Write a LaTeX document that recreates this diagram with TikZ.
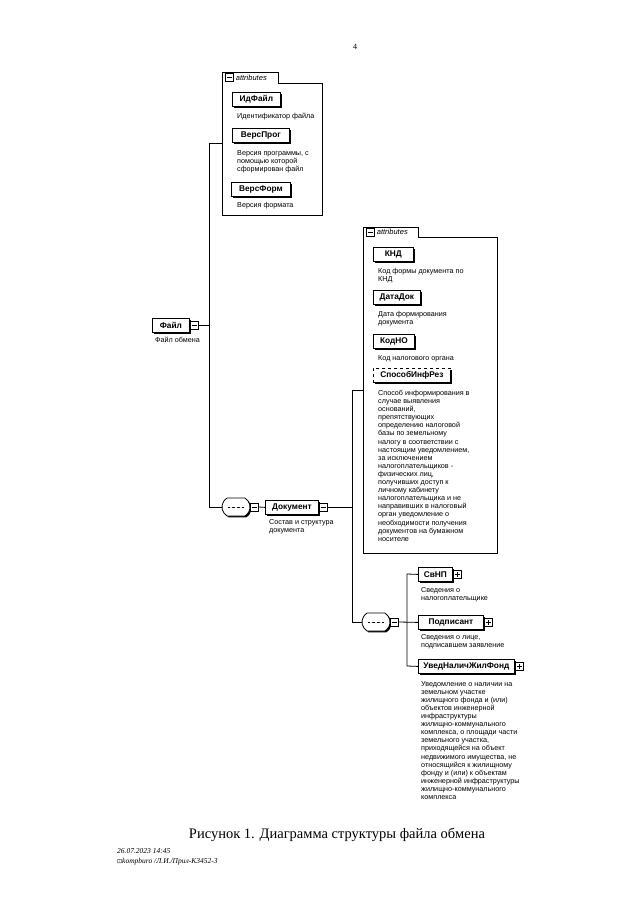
\documentclass[tikz,border=0pt]{standalone}
\usepackage{fontspec}
\setmainfont{Liberation Serif}
\setsansfont{Liberation Sans}
\newfontfamily\symfont{DejaVu Sans}
\usetikzlibrary{positioning,shapes.misc,shadows,calc}

\tikzset{
  line/.style={line width=0.8pt},
  shade/.style={general shadow={fill=black, shadow xshift=1.4pt, shadow yshift=-1.4pt}},
  elem/.style={draw, line width=0.8pt, fill=white, anchor=north west, shade,
    font=\sffamily\bfseries\fontsize{8.3}{9}\selectfont,
    minimum height=14pt, inner sep=0pt},
  optelem/.style={elem, dashed},
  descr/.style={anchor=north west, inner sep=0pt, align=left,
    font=\sffamily\fontsize{7.2}{8.1}\selectfont},
  sign/.style={draw, line width=0.7pt, fill=white, minimum size=8pt,
    inner sep=0pt, anchor=west},
  minus/.style={sign, path picture={
    \draw ([xshift=1.5pt]path picture bounding box.west) -- ([xshift=-1.5pt]path picture bounding box.east);}},
  plus/.style={sign, path picture={
    \draw ([xshift=1.5pt]path picture bounding box.west) -- ([xshift=-1.5pt]path picture bounding box.east);
    \draw ([yshift=-1.5pt]path picture bounding box.north) -- ([yshift=1.5pt]path picture bounding box.south);}},
  seq/.style={draw, line width=0.8pt, fill=white, shade, rounded rectangle,
    rounded rectangle arc length=120, minimum width=28pt, minimum height=18pt, inner sep=0pt,
    path picture={
      \draw[line width=0.6pt] ([xshift=-8pt]path picture bounding box.center) -- ([xshift=8pt]path picture bounding box.center);
      \foreach \d in {-5,0,5} \fill ([xshift=\d pt]path picture bounding box.center) circle (1.3pt);}},
  grp/.style={draw, line width=0.8pt, fill=white,
    general shadow={fill=black, shadow xshift=0.8pt, shadow yshift=-0.8pt}},
  box/.style={inner sep=0pt, outer sep=0pt},
  tabtxt/.style={font=\sffamily\itshape\fontsize{7.5}{9}\selectfont, inner sep=0pt},
}

\begin{document}
\begin{tikzpicture}[x=1pt,y=-1pt]
  \useasboundingbox (0,0) rectangle (640,905);

  \node[font=\fontsize{8}{9}\selectfont] (pnum) at (355,47) {4};

  % attributes of the file
  \node[box, anchor=north west, minimum width=100pt, minimum height=132pt] (grpA) at (222,83) {};
  \node[box, anchor=south west, minimum width=56pt, minimum height=11pt] (tabA) at (grpA.north west) {};
  \draw[grp] (tabA.north west) -- (tabA.north east) -- (tabA.south east) -- (grpA.north east)
    -- (grpA.south east) -- (grpA.south west) -- cycle;
  \node[minus] (tabAm) at ([xshift=3pt]tabA.west) {};
  \node[tabtxt, right=2pt of tabAm] (tabAt) {attributes};

  \node[elem, minimum width=48pt] (idfile) at (232,92) {ИдФайл};
  \node[descr] (idfiled) at (237,113) {Идентификатор файла};
  \node[elem, minimum width=57pt] (versprog) at (232,128) {ВерсПрог};
  \node[descr] (versprogd) at (237,150) {Версия программы, с\\помощью которой\\сформирован файл};
  \node[elem, minimum width=59pt] (versform) at (231,182) {ВерсФорм};
  \node[descr] (versformd) at (237,202) {Версия формата};

  % root
  \node[elem, minimum width=37pt] (file) at (152,318) {Файл};
  \node[minus] (fileM) at (file.east) {};
  \node[descr] (filed) at (155,337) {Файл обмена};

  \node[seq] (seqA) at (236,507) {};
  \node[minus] (seqAm) at (seqA.east) {};
  \node[elem, minimum width=53pt] (doc) at (265,500) {Документ};
  \node[minus] (docM) at (doc.east) {};
  \node[descr] (docd) at (269,519) {Состав и структура\\документа};

  \coordinate (busA) at (209,143);
  \coordinate (busAend) at (209,507);
  \draw[line] (fileM.east) -- (fileM.east -| busA);
  \draw[line] (busA -| grpA.west) -- (busA) -- (busAend) -- (seqA.west);
  \draw[line] (seqAm.east) -- (doc.west);

  % attributes of the document
  \node[box, anchor=north west, minimum width=134pt, minimum height=316pt] (grpB) at (363,237) {};
  \node[box, anchor=south west, minimum width=55pt, minimum height=10pt] (tabB) at (grpB.north west) {};
  \draw[grp] (tabB.north west) -- (tabB.north east) -- (tabB.south east) -- (grpB.north east)
    -- (grpB.south east) -- (grpB.south west) -- cycle;
  \node[minus] (tabBm) at ([xshift=3pt]tabB.west) {};
  \node[tabtxt, right=2pt of tabBm] (tabBt) {attributes};

  \node[elem, minimum width=40pt] (knd) at (373,247) {КНД};
  \node[descr] (kndd) at (378,268) {Код формы документа по\\КНД};
  \node[elem, minimum width=47pt] (datadok) at (373,290) {ДатаДок};
  \node[descr] (datadokd) at (378,311) {Дата формирования\\документа};
  \node[elem, minimum width=41pt] (kodno) at (373,334) {КодНО};
  \node[descr] (kodnod) at (378,355) {Код налогового органа};
  \node[optelem, minimum width=77pt] (sposob) at (373,368) {СпособИнфРез};
  \node[descr] (sposobd) at (378,390) {Способ информирования в\\случае выявления\\оснований,\\препятствующих\\определению налоговой\\базы по земельному\\налогу в соответствии с\\настоящим уведомлением,\\за исключением\\налогоплательщиков -\\физических лиц,\\получивших доступ к\\личному кабинету\\налогоплательщика и не\\направивших в налоговый\\орган уведомление о\\необходимости получения\\документов на бумажном\\носителе};

  % children of the document
  \node[seq] (seqB) at (376,622) {};
  \node[minus] (seqBm) at (seqB.east) {};
  \node[elem, minimum width=34pt] (svnp) at (418,567) {СвНП};
  \node[plus] (svnpP) at (svnp.east) {};
  \node[descr] (svnpd) at (421,587) {Сведения о\\налогоплательщике};
  \node[elem, minimum width=65pt] (podp) at (418,615) {Подписант};
  \node[plus] (podpP) at (podp.east) {};
  \node[descr] (podpd) at (421,634) {Сведения о лице,\\подписавшем заявление};
  \node[elem, minimum width=96pt] (uved) at (418,659) {УведНаличЖилФонд};
  \node[plus] (uvedP) at (uved.east) {};
  \node[descr] (uvedd) at (421,681) {Уведомление о наличии на\\земельном участке\\жилищного фонда и (или)\\объектов инженерной\\инфраструктуры\\жилищно-коммунального\\комплекса, о площади части\\земельного участка,\\приходящейся на объект\\недвижимого имущества, не\\относящийся к жилищному\\фонду и (или) к объектам\\инженерной инфраструктуры\\жилищно-коммунального\\комплекса};

  \coordinate (busB) at (352,390);
  \coordinate (busBend) at (352,622);
  \draw[line] (docM.east) -- (docM.east -| busB);
  \draw[line] (busB -| grpB.west) -- (busB) -- (busBend) -- (seqB.west);

  \coordinate (busC) at (407,574);
  \coordinate (busCend) at (407,666);
  \draw[line] (seqBm.east) -- (podp.west);
  \draw[line] (svnp.west) -- (busC) -- (busCend) -- (uved.west);

  % caption
  \node[font=\fontsize{14.5}{16}\selectfont] (caption) at (337,835) {Рисунок 1. Диаграмма структуры файла обмена};
  \node[anchor=west, inner sep=0pt, align=left, font=\itshape\fontsize{7.5}{10}\selectfont] (stamp) at (117,857)
    {26.07.2023 14:45\\{\symfont\upshape\fontsize{6}{8}\selectfont ⊡}kompburo /Л.И./Прил-К3452-3};
\end{tikzpicture}
\end{document}
